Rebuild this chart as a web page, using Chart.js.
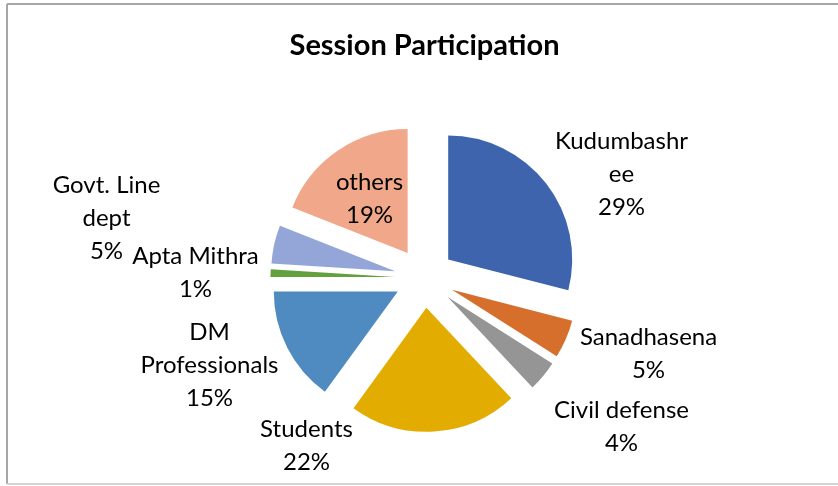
<!DOCTYPE html>
<html>
<head>
<meta charset="utf-8">
<script src="https://cdn.jsdelivr.net/npm/chart.js@4"></script>
<style>
    html, body { margin: 0; padding: 0; background: #fff; }
    #wrap { width: 838px; height: 486px; position: relative; }
</style>
</head>
<body>
<div id="wrap"><canvas id="session"></canvas></div>
<script>
// data
const categories = [
    ['Kudumbashr', 'ee'],
    ['Sanadhasena'],
    ['Civil defense'],
    ['Students'],
    ['DM', 'Professionals'],
    ['Apta Mithra'],
    ['Govt. Line', 'dept'],
    ['others']
];
const shares = [29, 5, 4, 22, 15, 1, 5, 19];
const colors = ['#3D64AC', '#D66F2C', '#959595', '#E3AC00', '#4F8BC0', '#63A03E', '#94A6D8', '#F1A88A'];

// where each data label sits, relative to pie centre (px)
const labelShift = [[197, -104], [224, 76], [197, 149], [-118, 168], [-215, 87], [-229, -5], [-318, -60], [-55, -79]];

const explode = 30;
const labelFont = '24px Lato';
const lineGap = 33;

window.onload = function() {
    drawChart();
};

function drawChart() {
    const ctx = document.getElementById('session').getContext('2d');

    const frame = {
        id: 'frame',
        beforeDraw(chart) {
            const c = chart.ctx;
            c.save();
            c.fillStyle = '#fff';
            c.fillRect(0, 0, chart.width, chart.height);
            c.lineWidth = 2;
            c.strokeStyle = '#a6a6a6';
            c.beginPath();
            c.moveTo(7, 4);
            c.lineTo(chart.width, 4);
            c.moveTo(7, 4);
            c.lineTo(7, 484);
            c.stroke();
            c.strokeStyle = '#d4d4d4';
            c.beginPath();
            c.moveTo(7, 484);
            c.lineTo(chart.width, 484);
            c.stroke();
            c.restore();
        }
    };

    // exploded slices: draw each arc pushed out along its middle angle
    const explodePie = {
        id: 'explodePie',
        beforeDatasetsDraw(chart) {
            const c = chart.ctx;
            chart.getDatasetMeta(0).data.forEach(function(arc) {
                const mid = (arc.startAngle + arc.endAngle) / 2;
                c.save();
                c.translate(Math.cos(mid) * explode, Math.sin(mid) * explode);
                arc.draw(c);
                c.restore();
            });
            return false;
        }
    };

    const sliceLabels = {
        id: 'sliceLabels',
        afterDraw(chart) {
            const c = chart.ctx;
            const arcs = chart.getDatasetMeta(0).data;
            const total = shares.reduce((a, b) => a + b, 0);
            c.save();
            c.font = labelFont;
            c.fillStyle = '#000';
            c.textAlign = 'center';
            c.textBaseline = 'middle';
            arcs.forEach(function(arc, i) {
                const lines = categories[i].concat([Math.round(shares[i] / total * 100) + '%']);
                const x = arc.x + labelShift[i][0];
                const y0 = arc.y + labelShift[i][1] - (lines.length - 1) * lineGap / 2;
                lines.forEach(function(t, k) {
                    c.fillText(t, x, y0 + k * lineGap);
                });
            });
            c.restore();
        }
    };

    new Chart(ctx, {
        type: 'pie',
        data: {
            labels: categories.map(l => l.join(' ')),
            datasets: [{
                data: shares,
                backgroundColor: colors,
                borderWidth: 0,
                radius: 124
            }]
        },
        options: {
            responsive: true,
            maintainAspectRatio: false,
            animation: false,
            events: [],
            layout: {
                padding: { top: 6, bottom: 2, left: 11, right: 0 }
            },
            plugins: {
                legend: { display: false },
                tooltip: { enabled: false },
                title: {
                    display: true,
                    text: 'Session Participation',
                    color: '#000',
                    font: { family: 'Lato', size: 29, weight: 'bold' },
                    padding: { top: 22, bottom: 9 }
                }
            }
        },
        plugins: [frame, explodePie, sliceLabels]
    });
}
</script>
</body>
</html>
